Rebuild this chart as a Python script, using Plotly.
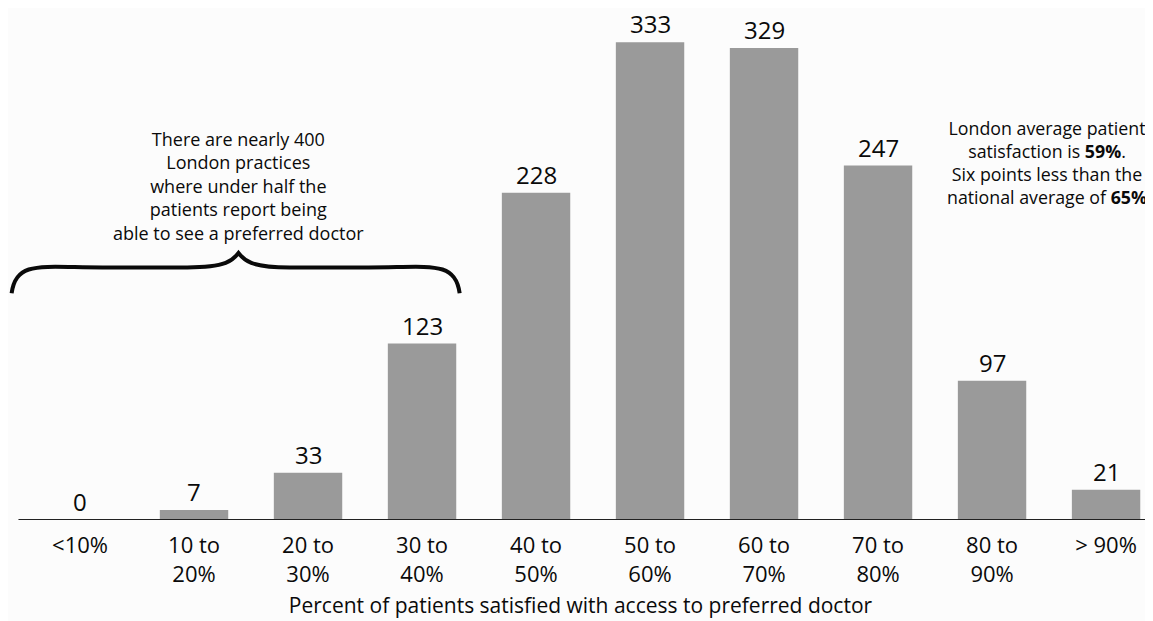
import plotly.graph_objects as go

categories = ["<10%", "10 to<br>20%", "20 to<br>30%", "30 to<br>40%", "40 to<br>50%",
              "50 to<br>60%", "60 to<br>70%", "70 to<br>80%", "80 to<br>90%", "> 90%"]
practices = [0, 7, 33, 123, 228, 333, 329, 247, 97, 21]
positions = list(range(len(categories)))

FONT = "Open Sans"
BAR = "#9a9a9a"
INK = "#0a0a0a"

fig = go.Figure()
fig.add_trace(go.Bar(
    x=positions, y=practices, width=0.6,
    marker=dict(color=BAR, line=dict(width=0)),
    hoverinfo="skip",
))

# value labels above each bar
for p, v in zip(positions, practices):
    fig.add_annotation(x=p, y=v, xref="x", yref="y", text=str(v), showarrow=False,
                       yanchor="bottom", yshift=1, borderpad=0,
                       font=dict(family=FONT, size=24, color=INK))

# baseline
fig.add_shape(type="line", xref="x", yref="y", x0=-0.54, x1=9.41, y0=0, y1=0,
              line=dict(color="#222222", width=2))

# curly brace spanning the first four bins
bx0, bx1, btip = -0.6, 3.33, 1.39
by0, bmid, btop = 158, 176, 186
brace = (f"M {bx0},{by0} C {bx0+0.04},{bmid+5} {bx0+0.25},{bmid} {bx0+0.8},{bmid} "
         f"L {btip-0.45},{bmid} C {btip-0.1},{bmid} {btip-0.05},{btop-5} {btip},{btop} "
         f"C {btip+0.05},{btop-5} {btip+0.1},{bmid} {btip+0.45},{bmid} "
         f"L {bx1-0.8},{bmid} C {bx1-0.25},{bmid} {bx1-0.04},{bmid+5} {bx1},{by0}")
fig.add_shape(type="path", path=brace, xref="x", yref="y",
              line=dict(color=INK, width=4))

fig.add_annotation(
    x=1.39, y=233, xref="x", yref="y", showarrow=False,
    text="There are nearly 400<br>London practices<br>where under half the<br>patients report being<br>able to see a preferred doctor",
    font=dict(family=FONT, size=18, color=INK), align="center",
)
fig.add_annotation(
    x=8.48, y=249, xref="x", yref="y", showarrow=False,
    text="London average patient<br>satisfaction is <b>59%</b>.<br>Six points less than the<br>national average of <b>65%</b>",
    font=dict(family=FONT, size=17.8, color=INK), align="center",
)

fig.update_layout(
    width=1145, height=613,
    margin=dict(l=1, r=1, t=0, b=101),
    paper_bgcolor="#fcfcfc", plot_bgcolor="#fcfcfc",
    showlegend=False,
    font=dict(family=FONT, color=INK),
    xaxis=dict(
        range=[-0.623, 9.403], tickvals=positions, ticktext=categories,
        showgrid=False, zeroline=False, showline=False,
        ticks="outside", ticklen=6, tickcolor="rgba(0,0,0,0)",
        tickfont=dict(family=FONT, size=22, color=INK),
        title=dict(text="Percent of patients satisfied with access to preferred doctor",
                   font=dict(family=FONT, size=21, color=INK), standoff=11),
    ),
    yaxis=dict(range=[0, 356.8], visible=False, showgrid=False, zeroline=False),
)

fig.write_html("out.html")
